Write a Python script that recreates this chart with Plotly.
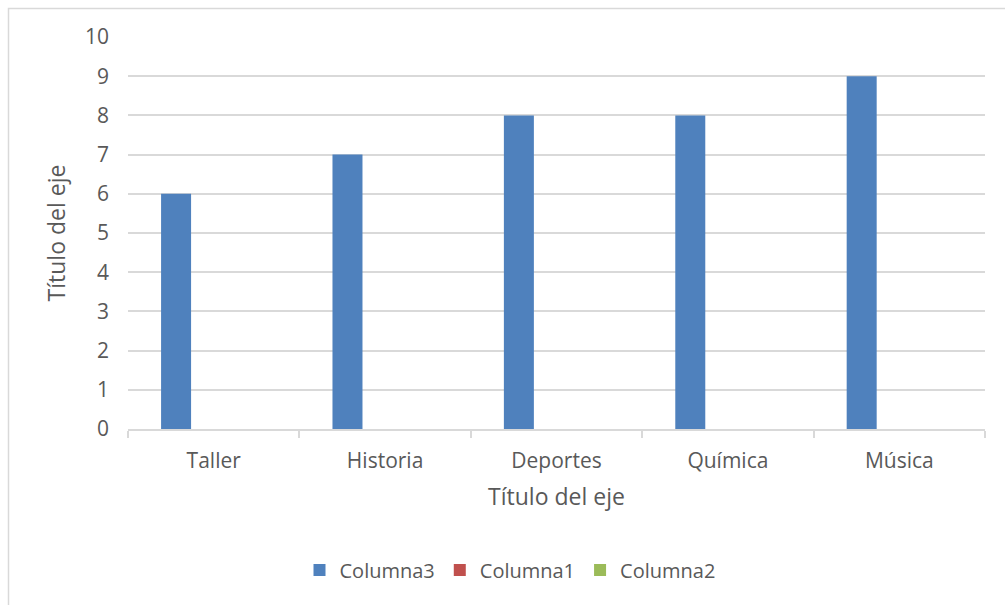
import plotly.graph_objects as go

# Chart data
categories = ["Taller", "Historia", "Deportes", "Química", "Música"]
columna3 = [6, 7, 8, 8, 9]
columna1 = [None, None, None, None, None]
columna2 = [None, None, None, None, None]
y_ticks = list(range(0, 11))

series_names = ["Columna3", "Columna1", "Columna2"]
series_values = [columna3, columna1, columna2]
series_colors = ["#4F81BD", "#C0504D", "#9BBB59"]

TEXT = "#595959"
GRID = "#D9D9D9"
FONT = "Open Sans"

# Plot area geometry (px)
W, H = 1005, 605
L, R, T, B = 128, 20, 37, 176
PW, PH = W - L - R, H - T - B

bar_w = 0.175
first_offset = -0.307

fig = go.Figure()
for i, (name, vals, col) in enumerate(zip(series_names, series_values, series_colors)):
    fig.add_trace(go.Bar(
        x=categories, y=vals, name=name,
        marker=dict(color=col, line=dict(width=0)),
        width=bar_w, offset=first_offset + i * bar_w,
    ))

# Outer chart frame
fig.add_shape(
    type="rect", xref="paper", yref="paper",
    x0=(8.5 - L) / PW, x1=(W + 10 - L) / PW,
    y0=-(H + 10 - (T + PH)) / PH, y1=1 + (T - 8.5) / PH,
    line=dict(color=GRID, width=1.5), fillcolor="rgba(0,0,0,0)", layer="below",
)

fig.update_layout(
    width=W, height=H,
    margin=dict(l=L, r=R, t=T, b=B, autoexpand=False),
    paper_bgcolor="white", plot_bgcolor="white",
    font=dict(family=FONT, color=TEXT, size=21),
    barmode="group",
    showlegend=True,
    legend=dict(
        orientation="h", x=(510 - L) / PW, xanchor="center",
        y=-(570 - (T + PH)) / PH, yanchor="middle",
        font=dict(size=20, color=TEXT), itemclick=False, traceorder="normal",
    ),
    xaxis=dict(
        type="category", range=[-0.5, 4.5],
        showline=True, linecolor=GRID, linewidth=1.5,
        ticks="outside", tickson="boundaries", ticklen=7, tickcolor=GRID, tickwidth=1.5,
        showgrid=False, tickfont=dict(size=21, color=TEXT), ticklabelstandoff=12,
        title=dict(text="Título del eje", font=dict(size=23, color=TEXT), standoff=16),
        fixedrange=True,
    ),
    yaxis=dict(
        range=[0, 10], tickvals=y_ticks, showgrid=True, gridcolor=GRID, gridwidth=1.5,
        zeroline=False, showline=False, ticks="",
        tickfont=dict(size=21, color=TEXT), ticklabelstandoff=18,
        title=dict(text="Título del eje", font=dict(size=23, color=TEXT), standoff=12),
        fixedrange=True,
    ),
)

fig.write_html("out.html")
